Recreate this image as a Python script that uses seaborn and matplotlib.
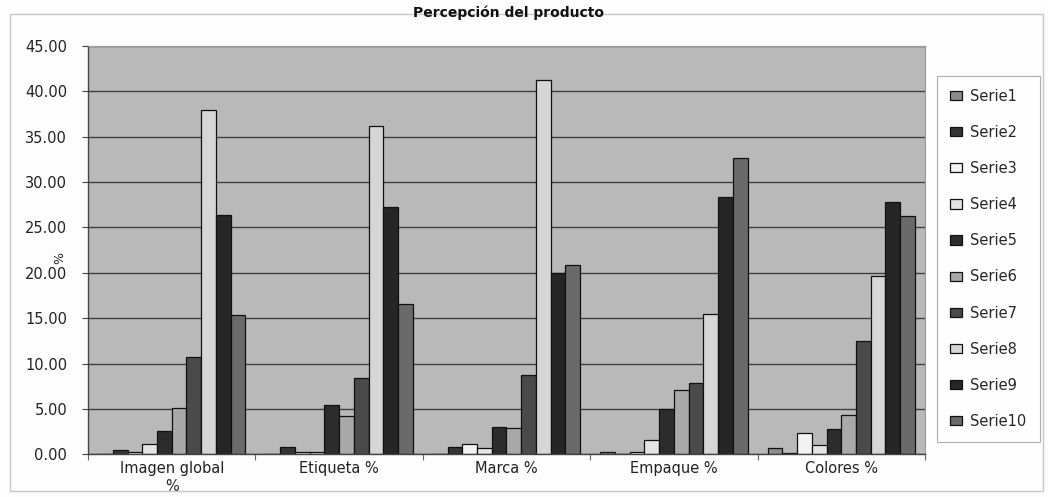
import numpy as np
import pandas as pd
import matplotlib
matplotlib.use("Agg")
import matplotlib.pyplot as plt
from matplotlib.patches import Patch, Rectangle
from matplotlib.ticker import FixedLocator
import seaborn as sns

# --- data -------------------------------------------------------------
categorias = ["Imagen global\n%", "Etiqueta %", "Marca %", "Empaque %", "Colores %"]
series = ["Serie1", "Serie2", "Serie3", "Serie4", "Serie5",
          "Serie6", "Serie7", "Serie8", "Serie9", "Serie10"]

serie1 = [0.00, 0.00, 0.00, 0.25, 0.70]
serie2 = [0.45, 0.85, 0.85, 0.00, 0.15]
serie3 = [0.20, 0.30, 1.10, 0.20, 2.30]
serie4 = [1.10, 0.30, 0.65, 1.60, 1.00]
serie5 = [2.55, 5.45, 2.95, 5.00, 2.80]
serie6 = [5.15, 4.20, 2.90, 7.10, 4.35]
serie7 = [10.70, 8.45, 8.75, 7.85, 12.50]
serie8 = [37.90, 36.20, 41.30, 15.50, 19.70]
serie9 = [26.40, 27.30, 20.00, 28.40, 27.85]
serie10 = [15.30, 16.60, 20.85, 32.70, 26.25]

yticks = [0, 5, 10, 15, 20, 25, 30, 35, 40, 45]

valores = [serie1, serie2, serie3, serie4, serie5,
           serie6, serie7, serie8, serie9, serie10]

df = pd.DataFrame(
    [(c, s, v[i]) for s, v in zip(series, valores) for i, c in enumerate(categorias)],
    columns=["categoria", "serie", "valor"],
)

# grey tones of the printed chart
colores = ["#8c8c8c", "#353535", "#f2f2f2", "#e4e4e4", "#2c2c2c",
           "#a9a9a9", "#4a4a4a", "#d6d6d6", "#262626", "#6a6a6a"]

# --- figure -----------------------------------------------------------
sns.set_theme(style="white")
plt.rcParams["font.family"] = ["DejaVu Sans"]

fig = plt.figure(figsize=(10.48, 4.97), dpi=100, facecolor="#fdfdfd")
ax = fig.add_axes([0.084, 0.086, 0.7986, 0.8214])
ax.set_facecolor("#b9b9b9")

sns.barplot(data=df, x="categoria", y="valor", hue="serie",
            hue_order=series, order=categorias, palette=colores,
            width=0.88, gap=0, edgecolor="#111111", linewidth=0.9,
            saturation=1, legend=False, ax=ax, errorbar=None)

ax.set_ylim(0, 45)
ax.set_xlim(-0.5, 4.5)
ax.set_yticks(yticks)
ax.set_yticklabels([f"{t:.2f}" for t in yticks], fontsize=10.5, color="#222222")
ax.yaxis.grid(True, color="#3f3f3f", linewidth=1.0)
ax.set_axisbelow(True)
ax.tick_params(axis="y", length=4, width=0.8, color="#444444", pad=11, left=True)
ax.tick_params(axis="x", which="major", length=0, pad=5, labelsize=10.5, labelcolor="#222222")
ax.xaxis.set_minor_locator(FixedLocator([-0.5, 0.5, 1.5, 2.5, 3.5, 4.5]))
ax.tick_params(axis="x", which="minor", length=4, width=0.8, color="#666666", bottom=True)
ax.set_xlabel("")
ax.set_ylabel("")

for lado in ["left", "bottom"]:
    ax.spines[lado].set_color("#444444")
    ax.spines[lado].set_linewidth(1.0)
for lado in ["top", "right"]:
    ax.spines[lado].set_color("#9a9a9a")
    ax.spines[lado].set_linewidth(0.8)

# axis unit, set among the tick labels
fig.text(60 / 1048, 1 - 258 / 497, "%", rotation=90, ha="center", va="center",
         fontsize=9, color="#222222")

# title
fig.text(0.485, 0.975, "Percepción del producto", ha="center", va="center",
         fontsize=10, fontweight="bold", color="#111111")

# outer chart frame
fig.patches.append(Rectangle((0.010, 0.012), 0.985, 0.960, transform=fig.transFigure,
                             fill=False, edgecolor="#c8c8c8", linewidth=1.0))

# legend
handles = [Patch(facecolor=c, edgecolor="#111111", linewidth=0.9) for c in colores]
leg = fig.legend(handles, series, loc="upper left",
                 bbox_to_anchor=(0.894, 0.848), frameon=True,
                 fontsize=10.5, handlelength=0.8, handleheight=0.6,
                 handletextpad=0.6, labelspacing=1.45, borderpad=0.9,
                 borderaxespad=0, fancybox=False)
leg.get_frame().set_edgecolor("#9a9a9a")
leg.get_frame().set_facecolor("#ffffff")
leg.get_frame().set_linewidth(0.8)

fig.savefig("out.png", dpi=100, facecolor=fig.get_facecolor())
